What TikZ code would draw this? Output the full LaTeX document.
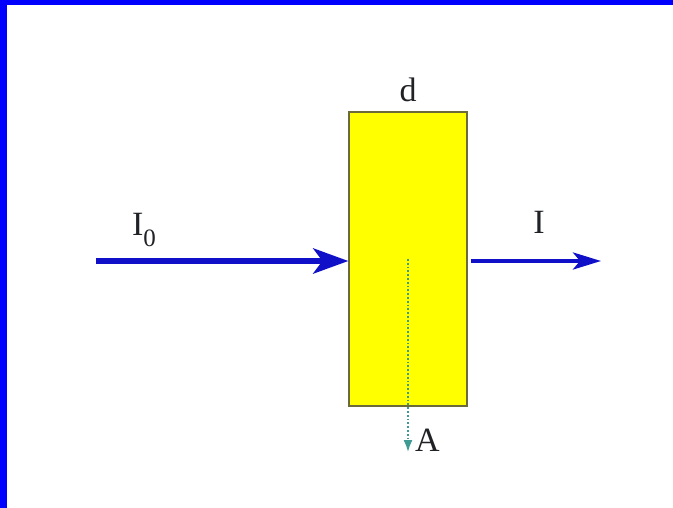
\documentclass[tikz,border=0pt]{standalone}
\usepackage{fontspec}
\setmainfont{Liberation Serif}
\usetikzlibrary{arrows.meta,positioning,calc}
\definecolor{framblue}{HTML}{0000FF}
\definecolor{beamblue}{HTML}{1010C8}
\definecolor{slabyellow}{HTML}{FFFF00}
\definecolor{slabedge}{HTML}{6A6A3A}
\definecolor{areateal}{HTML}{3E9A92}
\definecolor{darkgray}{HTML}{202226}
\tikzset{
  beamin/.style={-{Stealth[length=35pt,width=25pt,inset=9pt]},line width=6pt,beamblue},
  beamout/.style={-{Stealth[length=28pt,width=17pt,inset=7pt]},line width=4pt,beamblue},
  normal/.style={-{Latex[length=12pt,width=9pt]},line width=1.8pt,dotted,areateal},
  slab/.style={draw=slabedge,line width=1.2pt,fill=slabyellow,minimum width=118pt,minimum height=294pt,inner sep=0pt},
  lbl/.style={font=\fontsize{34}{38}\selectfont,text=darkgray,inner sep=2pt}
}
\begin{document}
\begin{tikzpicture}[x=1pt,y=-1pt]
  \useasboundingbox[fill=white] (0,0) rectangle (673,508);
  \fill[framblue] (0,0) rectangle (7,508);
  \fill[framblue] (0,0) rectangle (673,5);
  \node[slab] (sample) at (408,259) {};
  \node[lbl,above=7pt of sample] (thick) {d};
  \coordinate (src) at (96,261);
  \coordinate (dst) at (601,261);
  \coordinate (base) at (sample.center);
  \coordinate (foot) at (408,452);
  \draw[beamin] (src) -- (src -| sample.west);
  \draw[beamout] ($(src -| sample.east)+(3,0)$) -- (dst);
  \draw[normal] (base) -- (foot);
  \node[lbl] (inlbl) at (144,230) {I\raisebox{-11pt}{\fontsize{25}{27}\selectfont 0}};
  \node[lbl] (outlbl) at (539,222) {I};
  \node[lbl,right=5pt of foot,yshift=12pt] (arealbl) {A};
\end{tikzpicture}
\end{document}
